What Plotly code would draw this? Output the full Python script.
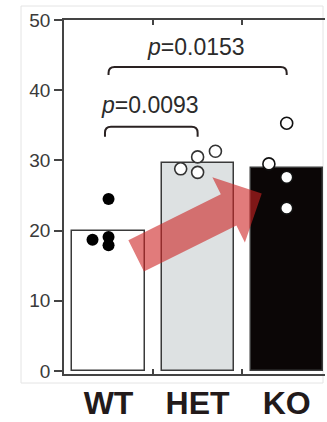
import numpy as np
import plotly.graph_objects as go

# ---- data ----
genotypes = ["WT", "HET", "KO"]
bar_means = [20.0, 29.6, 28.9]
wt_values = [18.7, 19.1, 17.9, 24.5]
het_values = [28.8, 30.5, 28.3, 31.3]
ko_values = [35.3, 29.5, 27.6, 23.2]
comparisons = [("WT", "HET", "<i>p</i>=0.0093"), ("WT", "KO", "<i>p</i>=0.0153")]
y_ticks = [0, 10, 20, 30, 40, 50]

# horizontal spread of the individual points around each bar centre
wt_jitter = [-0.18, 0.0, 0.0, 0.0]
het_jitter = [-0.19, 0.0, 0.0, 0.2]
ko_jitter = [0.0, -0.2, 0.0, 0.0]

# ---- geometry ----
W, H = 327, 422
ML, MR, MT, MB = 64, 2, 20, 48
PW, PH = W - ML - MR, H - MT - MB
XR = [-0.5, 2.43]
YR = [-0.43, 50]
pos = {g: i for i, g in enumerate(genotypes)}


def to_px(x, y):
    px = ML + (x - XR[0]) / (XR[1] - XR[0]) * PW
    py = MT + (YR[1] - y) / (YR[1] - YR[0]) * PH
    return px, py


def to_paper(px, py):
    return (px - ML) / PW, 1 - (py - MT) / PH


def path_from_px(cmds):
    out = []
    for c in cmds:
        if isinstance(c, str):
            out.append(c)
        else:
            fx, fy = to_paper(*c)
            out.append(f"{fx:.5f},{fy:.5f}")
    return " ".join(out)


fig = go.Figure()

fig.add_trace(go.Bar(
    x=[pos[g] for g in genotypes], y=bar_means, width=0.81,
    marker=dict(color=["#ffffff", "#dde1e2", "#0b0606"],
                line=dict(color="#3a3a3a", width=1.5)),
    showlegend=False, hoverinfo="skip",
))

fig.add_trace(go.Scatter(
    x=[pos["WT"] + j for j in wt_jitter], y=wt_values, mode="markers",
    marker=dict(size=12, color="#000000", line=dict(width=0)),
    showlegend=False,
))
fig.add_trace(go.Scatter(
    x=[pos["HET"] + j for j in het_jitter], y=het_values, mode="markers",
    marker=dict(size=12, color="#ffffff", line=dict(color="#333333", width=1.6)),
    showlegend=False,
))
fig.add_trace(go.Scatter(
    x=[pos["KO"] + j for j in ko_jitter], y=ko_values, mode="markers",
    marker=dict(size=12, color="#ffffff", line=dict(color="#111111", width=1.6)),
    showlegend=False,
))

shapes = []
annotations = []

# significance brackets with rounded ends: (top, end drop in px, label y, left inset)
bracket_levels = [(34.8, 10, 37.9, -0.04), (43.3, 8, 46.1, 0.0)]
for (a, b, label), (ytop, drop, ytxt, inset) in zip(comparisons, bracket_levels):
    xa, yt = to_px(pos[a] + inset, ytop)
    xb, _ = to_px(pos[b], ytop)
    r = 6
    cmds = ["M", (xa, yt + drop), "L", (xa, yt + r), "Q", (xa, yt), (xa + r, yt),
            "L", (xb - r, yt), "Q", (xb, yt), (xb, yt + r), "L", (xb, yt + drop)]
    shapes.append(dict(type="path", xref="paper", yref="paper",
                       path=path_from_px(cmds),
                       line=dict(color="#2a2222", width=2), layer="above"))
    annotations.append(dict(x=(pos[a] + inset + pos[b]) / 2 - 0.02, y=ytxt,
                            xref="x", yref="y",
                            text=label, showarrow=False, yanchor="middle",
                            font=dict(family="Liberation Sans, Arial", size=23,
                                      color="#2b2b2b")))

# broad translucent arrow from WT towards KO
sx, sy = to_px(0.31, 16.4)
tx, ty = to_px(1.72, 25.3)
u = np.array([tx - sx, ty - sy])
u = u / np.linalg.norm(u)
n = np.array([-u[1], u[0]])
s = np.array([sx, sy])
t = np.array([tx, ty])
back = t - u * 37
hw_shaft, hw_head = 17.5, 36.5
pts = [s + n * hw_shaft, back + n * hw_shaft, back + n * hw_head, t,
       back - n * hw_head, back - n * hw_shaft, s - n * hw_shaft]
cmds = ["M", tuple(pts[0])]
for p in pts[1:]:
    cmds += ["L", tuple(p)]
cmds.append("Z")
shapes.append(dict(type="path", xref="paper", yref="paper", path=path_from_px(cmds),
                   fillcolor="rgba(205,35,35,0.6)", line=dict(width=0), layer="above"))

# faint outer frame
fx0, fy0 = to_paper(21, 383)
fx1, fy1 = to_paper(323, 6)
shapes.append(dict(type="rect", xref="paper", yref="paper", x0=fx0, y0=fy0, x1=fx1, y1=fy1,
                   line=dict(color="#e4e4e4", width=1), layer="below"))

fig.update_layout(
    width=W, height=H,
    margin=dict(l=ML, r=MR, t=MT, b=MB, pad=0),
    paper_bgcolor="white", plot_bgcolor="white",
    shapes=shapes, annotations=annotations,
    font=dict(family="Liberation Sans, Arial"),
    xaxis=dict(
        range=XR, tickmode="array", tickvals=[pos[g] for g in genotypes],
        ticktext=genotypes, ticks="", showgrid=False, zeroline=False,
        showline=True, linecolor="#444444", linewidth=1.5, mirror="ticks",
        automargin=False,
        tickfont=dict(family="Liberation Sans, Arial", size=32, color="#221a1a",
                      weight="bold"),
        minor=dict(tickvals=[0.5, 1.5], ticks="inside", ticklen=5, tickwidth=1.5,
                   tickcolor="#444444", showgrid=False),
    ),
    yaxis=dict(
        range=YR, tickvals=y_ticks, ticks="outside", ticklen=8, tickwidth=1.5,
        tickcolor="#444444", showgrid=False, zeroline=False, automargin=False,
        showline=True, linecolor="#444444", linewidth=1.5,
        tickfont=dict(family="Liberation Sans, Arial", size=19, color="#3a3a3a"),
    ),
    bargap=0,
)

fig.write_html("out.html")
